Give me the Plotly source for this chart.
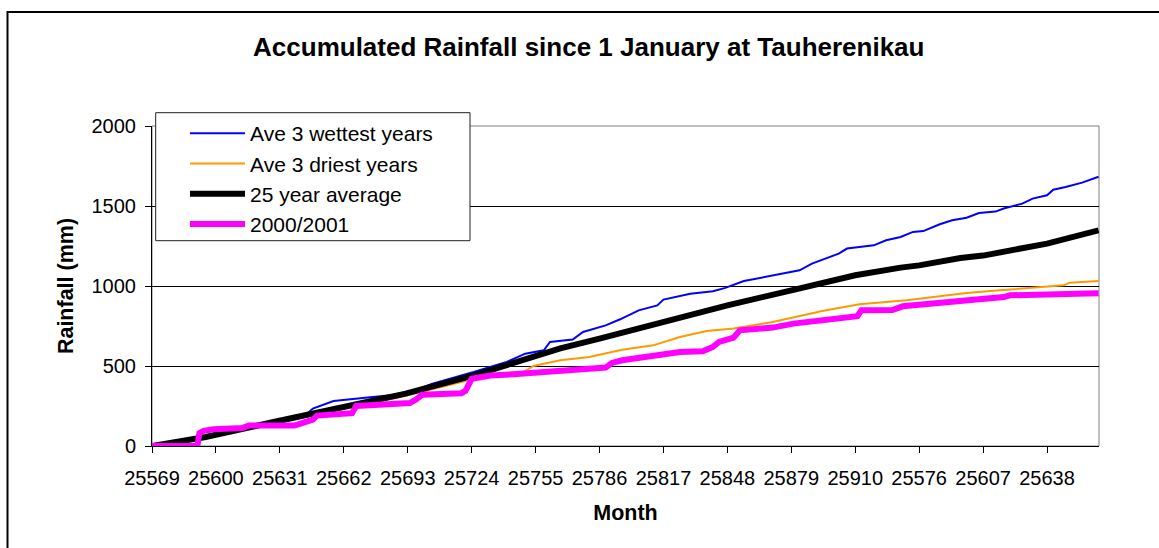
import plotly.graph_objects as go

# ---- data ----
tick_labels = ["25569", "25600", "25631", "25662", "25693", "25724", "25755",
               "25786", "25817", "25848", "25879", "25910", "25576", "25607", "25638"]
days_per_tick = 31
last_day_index = 459.2

wet_day = [0, 30, 60, 75, 78, 88, 107, 123, 136, 156, 172, 181, 190, 193, 204, 209,
           220, 227, 236, 245, 248, 261, 272, 278, 287, 301, 314, 320, 333, 337, 350,
           356, 363, 369, 374, 382, 388, 395, 401, 409, 413, 422, 427, 434, 437, 443,
           451, 459]
wet_mm = [0, 65, 150, 200, 234, 281, 306, 327, 390, 462, 525, 577, 598, 650, 665, 713,
          754, 792, 848, 879, 915, 952, 967, 988, 1031, 1067, 1098, 1140, 1202, 1234, 1254,
          1286, 1306, 1338, 1343, 1386, 1411, 1427, 1456, 1465, 1484, 1515, 1546, 1567, 1602, 1619,
          1646, 1683]

dry_day = [0, 30, 60, 90, 120, 150, 160, 170, 180, 185, 198, 212, 228, 243, 256, 269,
           282, 301, 311, 325, 343, 366, 379, 395, 411, 430, 442, 445, 459]
dry_mm = [0, 60, 145, 225, 305, 400, 432, 448, 462, 500, 536, 556, 602, 629, 681, 719,
          734, 775, 802, 844, 886, 911, 931, 956, 973, 990, 1004, 1021, 1031]

avg_day = [0, 26, 59, 91, 123, 156, 172, 188, 198, 217, 248, 279, 310, 341, 363, 372,
           392, 403, 434, 459]
avg_mm = [0, 56, 150, 234, 327, 442, 504, 567, 610, 671, 775, 879, 973, 1067, 1115, 1129,
          1175, 1190, 1265, 1348]

yr_day = [0, 22, 23, 25, 30, 36, 44, 47, 69, 72, 75, 78, 80, 89, 97, 99, 110, 125, 128,
          131, 150, 152, 155, 160, 164, 177, 188, 204, 207, 220, 223, 228, 245, 256, 267,
          272, 275, 282, 285, 301, 311, 325, 342, 344, 359, 364, 379, 382, 403, 413, 416,
          435, 450, 459]
yr_mm = [0, 2, 80, 95, 105, 110, 113, 128, 128, 140, 155, 165, 190, 198, 205, 250, 258, 268, 290,
         320, 330, 345, 420, 432, 440, 450, 460, 469, 480, 490, 519, 536, 567, 588, 592,
         619, 650, 677, 723, 740, 765, 790, 811, 848, 850, 873, 888, 900, 921, 931, 942,
         945, 952, 955]

series = [
    ("Ave 3 wettest years", wet_day, wet_mm, "#0000FF", 2),
    ("Ave 3 driest years", dry_day, dry_mm, "#FF9900", 2),
    ("25 year average", avg_day, avg_mm, "#000000", 6),
    ("2000/2001", yr_day, yr_mm, "#FF00FF", 6),
]

FONT = "Liberation Sans, Arial, sans-serif"

# pixel geometry helpers (plot area 152..1099 x 126..446)
L, T, PW, PH = 152, 126, 947, 320
def px(xp):
    return (xp - L) / PW
def py(yp):
    return (T + PH - yp) / PH

fig = go.Figure()
for i, (name, xs, ys, col, w) in enumerate(series):
    fig.add_trace(go.Scatter(x=xs, y=ys, mode="lines", name=name,
                             legendgroup=f"g{i}",
                             line=dict(color=col, width=w)))

fig.update_layout(
    width=1159, height=548,
    margin=dict(l=L, r=1159 - L - PW, t=T, b=548 - T - PH),
    paper_bgcolor="white", plot_bgcolor="white",
    font=dict(family=FONT, color="black", size=20),
    title=dict(text="Accumulated Rainfall since 1 January at Tauherenikau",
               x=0.508, xanchor="center", y=1 - 47 / 548, yanchor="middle",
               font=dict(size=26, weight="bold", family=FONT)),
    legend=dict(x=px(185), y=py(113), xanchor="left", yanchor="top",
                bgcolor="rgba(0,0,0,0)", borderwidth=0,
                font=dict(size=21, family=FONT), itemwidth=55,
                tracegroupgap=5, traceorder="normal"),
    showlegend=True,
)

fig.update_xaxes(
    range=[0, last_day_index],
    tickmode="array",
    tickvals=[days_per_tick * k for k in range(len(tick_labels))],
    ticktext=tick_labels,
    ticks="outside", ticklen=6, tickcolor="black",
    showline=True, linecolor="black", linewidth=1,
    showgrid=False, zeroline=False,
    tickfont=dict(size=20), ticklabelstandoff=8,
    title=dict(text="Month", font=dict(size=21.5, weight="bold"), standoff=16),
)
fig.update_yaxes(
    range=[0, 2000], dtick=500,
    ticks="outside", ticklen=6, tickcolor="black",
    showline=True, linecolor="black", linewidth=1,
    showgrid=True, gridcolor="black", gridwidth=1,
    zeroline=False,
    tickfont=dict(size=20), ticklabelstandoff=5,
    title=dict(text="Rainfall (mm)", font=dict(size=21.5, weight="bold"), standoff=11),
)

# plot-area border
fig.add_shape(type="rect", xref="x domain", yref="y domain", x0=0, x1=1, y0=0, y1=1,
              line=dict(color="#808080", width=1), layer="below")
# legend box
fig.add_shape(type="rect", xref="paper", yref="paper",
              x0=px(155.7), x1=px(470), y0=py(240.7), y1=py(112.7),
              line=dict(color="#202020", width=1), fillcolor="white", layer="above")
# outer chart frame (cropped on right and bottom in the reference)
fig.add_shape(type="rect", xref="paper", yref="paper",
              x0=px(7.5), x1=px(1170), y0=py(560), y1=py(12),
              line=dict(color="black", width=2))

fig.write_html("out.html", config={"displayModeBar": False},
               post_script="document.body.style.margin='0';")
